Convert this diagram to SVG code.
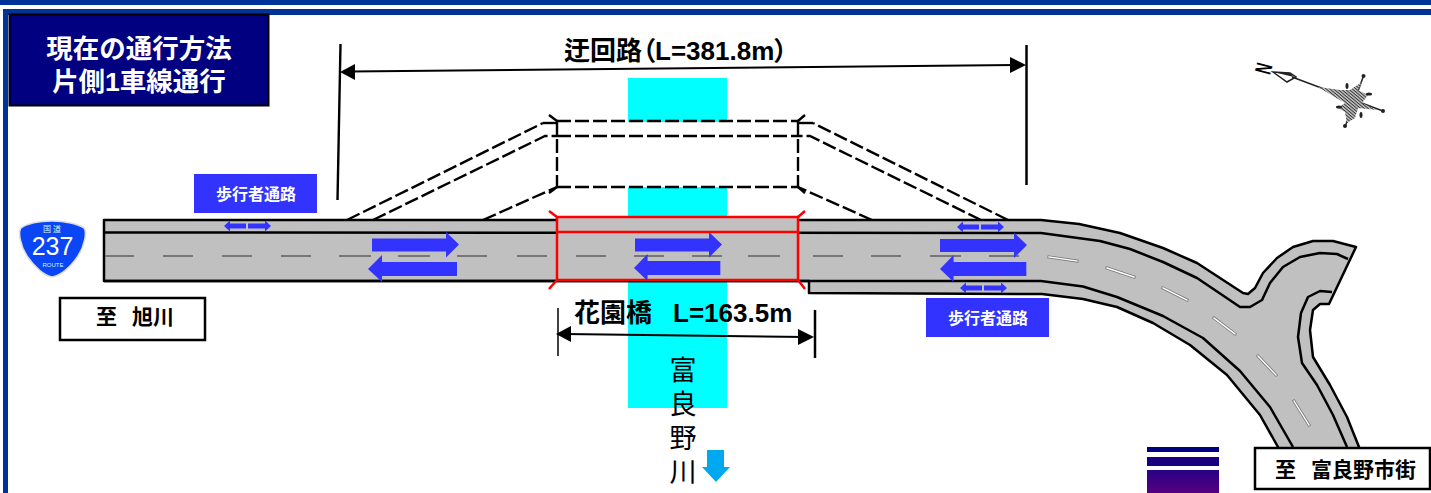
<svg xmlns="http://www.w3.org/2000/svg" width="1431" height="493" viewBox="0 0 1431 493">
<style>
text{font-family:"Liberation Sans","Noto Sans CJK JP",sans-serif;font-weight:700}
.blk{fill:#000}
.wht{fill:#fff}
.label{fill:#000;font-size:26px}
.palt{font-feature-settings:"palt"}
.river{fill:#000;font-size:27px;font-weight:400;letter-spacing:7px;writing-mode:vertical-rl;font-family:"Noto Sans CJK JP",sans-serif}
.ped-text{fill:#fff;font-size:16px;text-anchor:middle}
.road-line{fill:none;stroke:#000;stroke-width:2.500;stroke-linejoin:round}
.dash{fill:none;stroke:#000;stroke-width:2.400;stroke-dasharray:14 4}
.solid{fill:none;stroke:#000;stroke-width:2.400}
.tick{fill:none;stroke:#f00;stroke-width:2.500}
.cdash{stroke:#777;stroke-width:2}
.wdash{stroke:#777;stroke-width:3;stroke-linecap:square}
.wdash2{stroke:#fff;stroke-width:1.400;stroke-linecap:square}
.blue{fill:#3333ff}
.box{fill:#fff;stroke:#000;stroke-width:2.500}
</style>
<defs>
<polygon id="bigR" class="blue" points="0,-6 74,-6 74,-12.500 87,0 74,13 74,7 0,7"/>
<polygon id="bigL" class="blue" points="0,0 14,-14 14,-7 89,-7 89,7 14,7 14,13"/>
<g id="pedArrow" class="blue"><polygon points="0,0 6,-5.500 6,-2.500 22,-2.500 22,2.500 6,2.500 6,5.500"/><polygon points="47,0 41,-5.500 41,-2.500 24,-2.500 24,2.500 41,2.500 41,5.500"/></g>
<linearGradient id="barGrad" x1="0" y1="0" x2="0" y2="1"><stop offset="0" stop-color="#2a0085"/><stop offset="1" stop-color="#560080"/></linearGradient>
<pattern id="hatch" width="2.400" height="2.400" patternUnits="userSpaceOnUse" patternTransform="rotate(40)"><rect width="2.400" height="2.400" fill="#c8c8c8"/><rect width="2.400" height="1" fill="#333"/></pattern>
</defs>

<g id="frame">
<rect x="0" y="0" width="1431" height="5" fill="#003399"/>
<rect x="3" y="9" width="1428" height="6" fill="#003399"/>
<rect x="3" y="9" width="5" height="484" fill="#003399"/>
</g>

<g id="river"><rect x="628" y="78" width="99" height="330" fill="#00ffff"/></g>

<g id="detour">
<rect x="557" y="122" width="241" height="65" fill="#fff"/>
</g>

<g id="road">
<path d="M104,220 L1041,220 L1079,224 L1120,233 L1163,248 L1197,263 L1243,293 L1248,294 L1255,288 L1263,273 L1277,258 L1293,247 L1313,241 L1333,241 L1356,247 L1329,304 L1320,304 L1313,310 L1310,330 L1313,357 L1330,385 L1347,417 L1359,447 L1359,455 L1280,455 L1278,447 L1260,415 L1227,375 L1190,345 L1153,323 L1117,307 L1083,299 L1042,294 L809,293 L809,281 L104,281 Z" fill="#c0c0c0" stroke="#000" stroke-width="2.500" stroke-linejoin="round"/>
<path class="road-line" d="M104,232.500 L1041,233 L1100,241 L1130,249 L1163,262 L1197,278 L1240,307 L1250,307 L1262,300 L1270,283 L1283,267 L1300,257 L1320,253 L1337,254 L1348,259"/>
<path class="road-line" d="M104,281 L1041,281 L1083,286.500 L1117,297 L1163,316 L1203,338 L1240,371 L1270,407 L1293,447"/>
<path class="road-line" d="M1332,292 L1320,291 L1308,297 L1301,313 L1298,337 L1302,363 L1317,385 L1333,415 L1347,447"/>
<g class="cdash">
<line x1="105" y1="256" x2="134" y2="256"/><line x1="163" y1="256" x2="193" y2="256"/><line x1="222" y1="256" x2="252" y2="256"/><line x1="281" y1="256" x2="311" y2="256"/><line x1="339" y1="256" x2="371" y2="256"/><line x1="398" y1="256" x2="430" y2="256"/><line x1="457" y1="256" x2="487" y2="256"/><line x1="517" y1="256" x2="547" y2="256"/>
<line x1="813" y1="256" x2="843" y2="256"/><line x1="871" y1="256" x2="901" y2="256"/><line x1="930" y1="256" x2="961" y2="256"/><line x1="989" y1="256" x2="1019" y2="256"/>
</g>
<g class="wdash"><line x1="1049" y1="257" x2="1077" y2="261"/><line x1="1107" y1="268" x2="1134" y2="277"/><line x1="1163" y1="288" x2="1187" y2="300"/><line x1="1214" y1="318" x2="1235" y2="334"/><line x1="1258" y1="356" x2="1276" y2="375"/><line x1="1294" y1="401" x2="1309" y2="425"/></g>
<g class="wdash2"><line x1="1049" y1="257" x2="1077" y2="261"/><line x1="1107" y1="268" x2="1134" y2="277"/><line x1="1163" y1="288" x2="1187" y2="300"/><line x1="1214" y1="318" x2="1235" y2="334"/><line x1="1258" y1="356" x2="1276" y2="375"/><line x1="1294" y1="401" x2="1309" y2="425"/></g>
</g>

<g id="bridge">
<rect x="557" y="217" width="241" height="63" fill="#c0c0c0" stroke="#f00" stroke-width="2.500"/>
<line class="tick" x1="557" y1="232" x2="798" y2="232"/>
<path class="tick" d="M557,217 L549,211 M798,217 L805,211 M557,280 L549,289 M798,280 L805,289"/>
<g class="cdash"><line x1="576" y1="256" x2="606" y2="256"/><line x1="634" y1="256" x2="664" y2="256"/><line x1="692" y1="256" x2="722" y2="256"/><line x1="748" y1="256" x2="780" y2="256"/></g>
</g>

<g id="connectors">
<path class="dash" d="M347,220 L543,123"/>
<path class="solid" d="M543,123 L557,123"/>
<path class="dash" d="M373,220 L545,136 L557,136"/>
<path class="dash" d="M483,220 L557,187"/>
<path class="dash" d="M1008,220 L813,123"/>
<path class="solid" d="M813,123 L798,123"/>
<path class="dash" d="M981,220 L810,136 L798,136"/>
<path class="dash" d="M872,220 L798,187"/>
<path class="dash" d="M557,121 L798,121 M557,136 L798,136 M557,187 L798,187 M557,121 L557,187 M798,121 L798,187"/>
<path class="solid" d="M557,121 L549,115 M798,121 L805,115 M557,187 L549,193 M798,187 L805,193"/>
<path class="solid" d="M340.500,44 L337.500,200"/>
<line x1="1026.500" y1="45" x2="1026.500" y2="185" stroke="#000" stroke-width="2.500"/>
<line x1="350" y1="71.500" x2="1015" y2="65" stroke="#000" stroke-width="2"/>
<polygon class="blk" points="340,72 355,64 355,80"/>
<polygon class="blk" points="1026,65 1010,57 1010,73"/>
<line x1="558" y1="308" x2="558" y2="356" stroke="#000" stroke-width="1.500"/>
<line x1="815" y1="310" x2="815" y2="358" stroke="#000" stroke-width="2.500"/>
<line x1="565" y1="334" x2="805" y2="337" stroke="#000" stroke-width="2"/>
<polygon class="blk" points="556,334 571,326 571,342"/>
<polygon class="blk" points="814,337 798,329 798,345"/>
</g>

<g id="traffic-arrows">
<use href="#bigR" x="372" y="244.500"/>
<use href="#bigL" x="368" y="269"/>
<use href="#bigR" x="635" y="244.500"/>
<use href="#bigL" transform="translate(634,268) scale(.97,1)"/>
<use href="#bigR" x="940" y="245"/>
<use href="#bigL" transform="translate(940,269) scale(.97,1)"/>
<use href="#pedArrow" x="224" y="226"/>
<use href="#pedArrow" x="957" y="227"/>
<use href="#pedArrow" x="960" y="288"/>
</g>

<g id="title">
<rect x="9.500" y="14.500" width="259" height="91" fill="#000080" stroke="#000" stroke-width="2"/>
<text class="wht" x="139" y="58" font-size="26.500" text-anchor="middle">現在の通行方法</text>
<text class="wht" x="139" y="91" font-size="26.500" text-anchor="middle">片側1車線通行</text>
</g>

<g id="label-detour">
<text class="label" x="564" y="60">迂回路<tspan class="palt">（</tspan>L=381.8m<tspan class="palt">）</tspan></text>
</g>

<g id="label-bridge">
<text class="label"><tspan x="574" y="322">花園橋</tspan><tspan x="673" y="322">L=163.5m</tspan></text>
</g>

<g id="ped-left">
<rect x="194" y="174" width="123" height="39" class="blue"/>
<text class="ped-text" x="256" y="200">歩行者通路</text>
</g>
<g id="ped-right">
<rect x="926" y="298" width="123" height="39" class="blue"/>
<text class="ped-text" x="988" y="324">歩行者通路</text>
</g>

<g id="to-asahikawa">
<rect class="box" x="60" y="298" width="145" height="42"/>
<text class="blk" font-size="21"><tspan x="96" y="324">至</tspan><tspan x="132" y="324">旭川</tspan></text>
</g>

<g id="to-furano">
<rect class="box" x="1255" y="448" width="175" height="41"/>
<text class="blk" font-size="21"><tspan x="1275" y="477">至</tspan><tspan x="1311" y="477">富良野市街</tspan></text>
</g>

<g id="river-label">
<text class="river" x="683" y="356">富良野川</text>
<polygon fill="#00a8f0" points="707,450 724,450 724,467 730,467 716,482 702,467 707,467"/>
</g>

<g id="route-shield">
<path d="M52,221 C65,221 78,224 84,228 C87,232 85,245 78,256 C70,268 60,276 52,277 C45,276 35,268 27,256 C20,245 18,232 21,228 C28,223 40,221 52,221 Z" fill="#0a46f5" stroke="#ddd" stroke-width="1.500"/>
<text x="52" y="232" font-size="8" fill="#cfe" text-anchor="middle" style="font-weight:400" xml:space="preserve">国 道</text>
<text x="52.500" y="255" font-size="25" fill="#fff" text-anchor="middle" style="font-weight:400">237</text>
<text x="53" y="267" font-size="6" fill="#cfe" text-anchor="middle" style="font-weight:400">ROUTE</text>
</g>

<g id="compass">
<text font-size="23" class="blk" text-anchor="middle" y="8" transform="translate(1263.500,68.500) rotate(-75) scale(.62,1)">N</text>
<polygon points="1273,72 1290,73 1296,77 1287,82" fill="#fff" stroke="#222" stroke-width="1.500"/>
<polygon points="1273,72 1290,73 1294,77" fill="#222"/>
<line x1="1292" y1="77" x2="1383" y2="111" stroke="#222" stroke-width="1.500"/>
<line x1="1363.500" y1="76" x2="1345" y2="127" stroke="#222" stroke-width="1.500"/>
<polygon points="1318,87 1340,90 1350,90 1362,82 1358,90 1368,95 1362,103 1377,110 1358,108 1355,118 1347,123 1345,112 1338,108 1345,103" fill="url(#hatch)"/>
<circle cx="1383" cy="111" r="2" fill="#222"/><circle cx="1363.500" cy="76" r="2" fill="#222"/><circle cx="1345" cy="126" r="2" fill="#222"/>
<ellipse cx="1347" cy="86" rx="1.500" ry="3" fill="#222"/><ellipse cx="1369" cy="94" rx="3" ry="1.500" fill="#222"/><ellipse cx="1339" cy="107" rx="3" ry="1.500" fill="#222"/><ellipse cx="1361" cy="115" rx="1.500" ry="3" fill="#222"/>
</g>

<g id="stack-bars">
<rect x="1147" y="447" width="72" height="5" fill="#000080"/>
<rect x="1147" y="457" width="72" height="9" fill="#1a0080"/>
<rect x="1147" y="470" width="72" height="23" fill="url(#barGrad)"/>
</g>
</svg>
